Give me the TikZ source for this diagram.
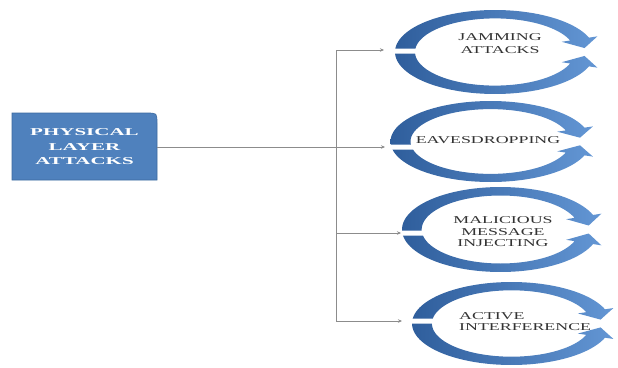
\documentclass[tikz,border=0pt]{standalone}
\usepackage{fontspec}
\setmainfont{Liberation Serif}
\usetikzlibrary{arrows.meta}

\definecolor{ringdark}{HTML}{2F5E9C}
\definecolor{ringlight}{HTML}{6396D4}
\definecolor{boxblue}{HTML}{4F81BD}
\definecolor{boxedge}{HTML}{3C6A9E}
\definecolor{wire}{HTML}{8C8C8C}
\definecolor{labelgray}{HTML}{333333}

% horizontally widened text
\newcommand{\stretchx}[2]{\scalebox{#1}[1]{#2}}

% circular double arrow: centre x, centre y, semi-axis x, semi-axis y, height of the left gap
% (a ring of relative thickness 0.2, heads reaching 0.09 beyond each edge)
\newcommand{\cyclering}[5]{%
  \pgfmathsetmacro{\toutA}{180-asin((#2-#5+2.5)/#4)}%
  \pgfmathsetmacro{\tinA}{180-asin((#2-#5+2.5)/(0.8*#4))}%
  \pgfmathsetmacro{\toutB}{180+asin((#5+2.5-#2)/#4)}%
  \pgfmathsetmacro{\tinB}{180+asin((#5+2.5-#2)/(0.8*#4))}%
  % upper half, running clockwise to a head pointing down
  \shade[left color=ringdark,right color=ringlight]
    plot[domain=\toutA:20,samples=50,variable=\x] ({#1+#3*cos(\x)},{#2-#4*sin(\x)})
    -- ({#1+1.09*#3*cos(20)},{#2-1.09*#4*sin(20)})
    -- ({#1+0.9*#3*cos(6)},{#2-0.9*#4*sin(6)})
    -- ({#1+0.71*#3*cos(20)},{#2-0.71*#4*sin(20)})
    -- plot[domain=20:\tinA,samples=50,variable=\x]
       ({#1+0.8*#3*cos(\x)},{#2-0.8*#4*sin(\x)})
    -- cycle;
  % lower half, running anticlockwise to a head pointing up
  \shade[left color=ringdark,right color=ringlight]
    plot[domain=\toutB:340,samples=50,variable=\x] ({#1+#3*cos(\x)},{#2-#4*sin(\x)})
    -- ({#1+1.09*#3*cos(340)},{#2-1.09*#4*sin(340)})
    -- ({#1+0.9*#3*cos(354)},{#2-0.9*#4*sin(354)})
    -- ({#1+0.71*#3*cos(340)},{#2-0.71*#4*sin(340)})
    -- plot[domain=340:\tinB,samples=50,variable=\x]
       ({#1+0.8*#3*cos(\x)},{#2-0.8*#4*sin(\x)})
    -- cycle;
}

\tikzset{
  wireline/.style={draw=wire, line width=0.6pt},
  wirearrow/.style={wireline, -{Stealth[length=4pt,width=3.5pt]}},
  ringlabel/.style={text=labelgray, inner sep=0pt, align=center,
    font=\fontsize{10.5}{11.5}\selectfont},
  headlabel/.style={text=white, inner sep=0pt, align=center,
    minimum width=145pt, minimum height=67pt,
    font=\fontsize{10.5}{14.5}\selectfont\bfseries},
}

\begin{document}
\begin{tikzpicture}[x=1pt,y=-1pt]
  \useasboundingbox (0,0) rectangle (618,367);

  % main box with one rounded corner
  \filldraw[fill=boxblue, draw=boxedge, line width=0.6pt]
    (12,180) -- (12,113) -- (147,113) .. controls (157,113) .. (157,123)
    -- (157,180) -- cycle;
  \node[headlabel] (phy) at (84.5,147)
    {\stretchx{2.0}{PHYSICAL}\\ \stretchx{2.0}{LAYER}\\ \stretchx{2.0}{ATTACKS}};

  % circular arrows
  \cyclering{495}{52}{100}{42}{51}
  \cyclering{490.5}{141.5}{100}{40.5}{147}
  \cyclering{500.5}{229.5}{98.5}{42.5}{233}
  \cyclering{511.5}{323.5}{99.5}{41.5}{321}

  % labels inside the circular arrows
  \node[ringlabel, font=\fontsize{10.5}{13}\selectfont] (jam) at (500,43.5)
    {\stretchx{1.7}{JAMMING}\\ \stretchx{1.7}{ATTACKS}};
  \node[ringlabel] (eav) at (488,140) {\stretchx{1.7}{EAVESDROPPING}};
  \node[ringlabel] (mal) at (503,232)
    {\stretchx{1.7}{MALICIOUS}\\ \stretchx{1.7}{MESSAGE}\\ \stretchx{1.7}{INJECTING}};
  \node[ringlabel, align=left, anchor=west] (act) at (459,321.5)
    {\stretchx{1.7}{ACTIVE}\\ \stretchx{1.7}{INTERFERENCE}};

  % connector end points
  \coordinate (busTop) at (336,50);
  \coordinate (busBot) at (336,321);
  \coordinate (malJoin) at (336,233);
  \coordinate (jamIn) at (384,50);
  \coordinate (eavIn) at (385,147);
  \coordinate (malIn) at (401,233);
  \coordinate (actIn) at (402,321);

  % connectors
  \draw[wireline] (busTop) -- (busBot);
  \draw[wirearrow] (phy.east) -- (eavIn);
  \draw[wirearrow] (busTop) -- (jamIn);
  \draw[wirearrow] (malJoin) -- (malIn);
  \draw[wirearrow] (busBot) -- (actIn);
\end{tikzpicture}
\end{document}
